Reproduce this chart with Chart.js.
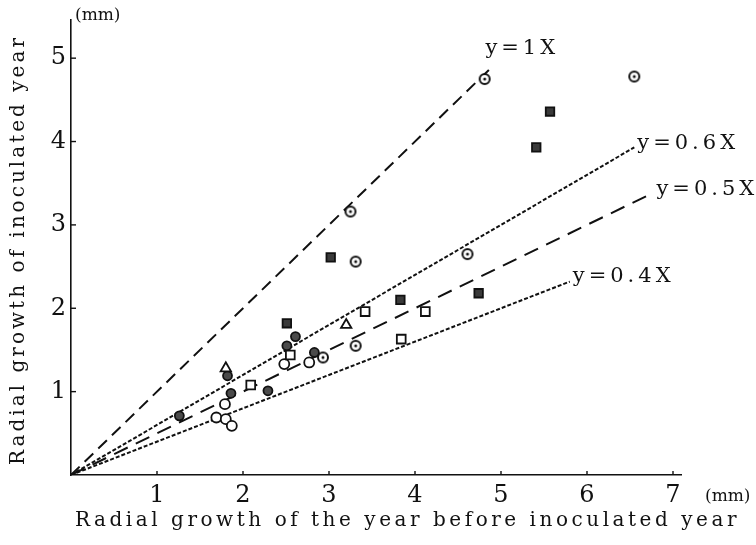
<!DOCTYPE html>
<html>
<head>
<meta charset="utf-8">
<script src="https://cdn.jsdelivr.net/npm/chart.js@4.4.0/dist/chart.umd.min.js"></script>
<style>
  html, body { margin: 0; background: #fff; }
  canvas { display: block; }
</style>
</head>
<body>
<canvas id="growthChart" width="756" height="545"></canvas>
<script>
// ── Radial growth (mm): [year before inoculation, inoculated year] ──
const dotCircles  = [[3.25, 3.16], [3.31, 2.56], [4.61, 2.65], [4.81, 4.75], [6.55, 4.78], [3.31, 1.55], [2.93, 1.41]];
const darkSquares = [[3.02, 2.61], [3.83, 2.10], [2.51, 1.82], [4.74, 2.18], [5.57, 4.36], [5.41, 3.93]];
const openSquares = [[3.42, 1.96], [4.12, 1.96], [3.84, 1.63], [2.55, 1.44], [2.09, 1.08]];
const triangles   = [[1.80, 1.28], [3.20, 1.80]];
const darkCircles = [[2.61, 1.66], [2.51, 1.55], [2.83, 1.47], [1.82, 1.19], [1.86, 0.98], [2.29, 1.01], [1.26, 0.71]];
const openCircles = [[2.48, 1.33], [2.77, 1.35], [1.79, 0.85], [1.69, 0.69], [1.80, 0.67], [1.87, 0.59]];

// ── Reference lines y = kX, drawn from the origin out to xEnd ──
const ratios      = [1, 0.6, 0.5, 0.4];
const ratioEnds   = [4.9, 6.55, 6.75, 5.8];
const ratioLabels = ['y=1X', 'y=0.6X', 'y=0.5X', 'y=0.4X'];
const ratioDashes = [[12, 7], [4, 2], [15, 9], [4, 2]];
const labelShift  = [[-7, -18], [3, -4], [5, -4], [3, -5]];

const xTicks = [1, 2, 3, 4, 5, 6, 7];
const yTicks = [1, 2, 3, 4, 5];

const INK = '#111';
const SERIF = '"DejaVu Serif", "Liberation Serif", serif';

const toXY = pts => pts.map(([x, y]) => ({ x, y }));

// circle with a centre dot, used as a custom point style
function dotCircleStyle() {
  const c = document.createElement('canvas');
  c.width = c.height = 14;
  const g = c.getContext('2d');
  g.fillStyle = '#fff';
  g.strokeStyle = INK;
  g.lineWidth = 2;
  g.beginPath(); g.arc(7, 7, 5, 0, Math.PI * 2); g.fill(); g.stroke();
  g.fillStyle = INK;
  g.beginPath(); g.arc(7, 7, 1.5, 0, Math.PI * 2); g.fill();
  return c;
}

const markerSets = [
  { data: dotCircles,  pointStyle: dotCircleStyle(), radius: 5 },
  { data: darkSquares, pointStyle: 'rect',     radius: 6,   fill: '#3a3a3a' },
  { data: openSquares, pointStyle: 'rect',     radius: 6.2, fill: '#fff' },
  { data: triangles,   pointStyle: 'triangle', radius: 6,   fill: '#fff' },
  { data: darkCircles, pointStyle: 'circle',   radius: 4.5, fill: '#4a4a4a' },
  { data: openCircles, pointStyle: 'circle',   radius: 5,   fill: '#fff' }
];

const datasets = [];

ratios.forEach((k, i) => {
  datasets.push({
    type: 'line',
    data: [{ x: 0, y: 0 }, { x: ratioEnds[i], y: k * ratioEnds[i] }],
    borderColor: INK,
    borderWidth: 2,
    borderDash: ratioDashes[i],
    pointRadius: 0,
    fill: false,
    order: 2
  });
});

markerSets.forEach(m => {
  datasets.push({
    type: 'scatter',
    data: toXY(m.data),
    pointStyle: m.pointStyle,
    pointRadius: m.radius,
    pointBackgroundColor: m.fill || '#fff',
    pointBorderColor: INK,
    pointBorderWidth: 1.8,
    order: 1
  });
});

// spread text so it fills a given width
function fitText(ctx, text, width) {
  ctx.letterSpacing = '0px';
  const natural = ctx.measureText(text).width;
  ctx.letterSpacing = Math.max(0, (width - natural) / text.length) + 'px';
}

// ── Inward tick marks, line labels, axis titles ──
const decorations = {
  id: 'decorations',
  afterDraw(chart) {
    const { ctx, scales: { x, y } } = chart;
    ctx.save();
    ctx.strokeStyle = INK;
    ctx.lineWidth = 1.4;
    xTicks.forEach(v => {
      const px = x.getPixelForValue(v);
      ctx.beginPath(); ctx.moveTo(px, y.bottom); ctx.lineTo(px, y.bottom - 4); ctx.stroke();
    });
    yTicks.forEach(v => {
      const py = y.getPixelForValue(v);
      ctx.beginPath(); ctx.moveTo(x.left, py); ctx.lineTo(x.left + 5, py); ctx.stroke();
    });

    ctx.fillStyle = INK;
    ctx.textBaseline = 'middle';
    ctx.textAlign = 'left';
    ctx.font = '21px ' + SERIF;
    ctx.letterSpacing = '4px';
    ratios.forEach((k, i) => {
      const px = x.getPixelForValue(ratioEnds[i]);
      const py = y.getPixelForValue(k * ratioEnds[i]);
      ctx.fillText(ratioLabels[i], px + labelShift[i][0], py + labelShift[i][1]);
    });

    // units
    ctx.letterSpacing = '0px';
    ctx.font = '17px ' + SERIF;
    ctx.fillText('(mm)', x.left + 4, 16);
    ctx.fillText('(mm)', 705, 497);

    // axis titles
    ctx.font = '20px ' + SERIF;
    ctx.textAlign = 'left';
    const xTitle = 'Radial growth of the year before inoculated year';
    fitText(ctx, xTitle, 665);
    ctx.fillText(xTitle, 75, 521);

    const yTitle = 'Radial growth of inoculated year';
    ctx.translate(19, 250);
    ctx.rotate(-Math.PI / 2);
    fitText(ctx, yTitle, 430);
    ctx.fillText(yTitle, -215, 0);
    ctx.restore();
  }
};

new Chart(document.getElementById('growthChart'), {
  data: { datasets },
  options: {
    responsive: false,
    animation: false,
    events: [],
    layout: { padding: { left: 0, top: 5, right: 74.4, bottom: 0 } },
    plugins: {
      legend: { display: false },
      tooltip: { enabled: false }
    },
    scales: {
      x: {
        type: 'linear',
        min: 0,
        max: 7.1,
        afterBuildTicks: s => { s.ticks = xTicks.map(v => ({ value: v })); },
        afterFit: s => { s.height = 70; },
        grid: { display: false, drawTicks: false },
        border: { color: INK, width: 1.6 },
        ticks: {
          color: INK,
          font: { family: SERIF, size: 24 },
          padding: 6,
          maxRotation: 0,
          autoSkip: false
        }
      },
      y: {
        type: 'linear',
        min: 0,
        max: 5.465,
        afterBuildTicks: s => { s.ticks = yTicks.map(v => ({ value: v })); },
        afterFit: s => { s.width = 71; },
        grid: { display: false, drawTicks: false },
        border: { color: INK, width: 1.6 },
        ticks: {
          color: INK,
          font: { family: SERIF, size: 24 },
          padding: 5,
          autoSkip: false
        }
      }
    }
  },
  plugins: [decorations]
});
</script>
</body>
</html>
